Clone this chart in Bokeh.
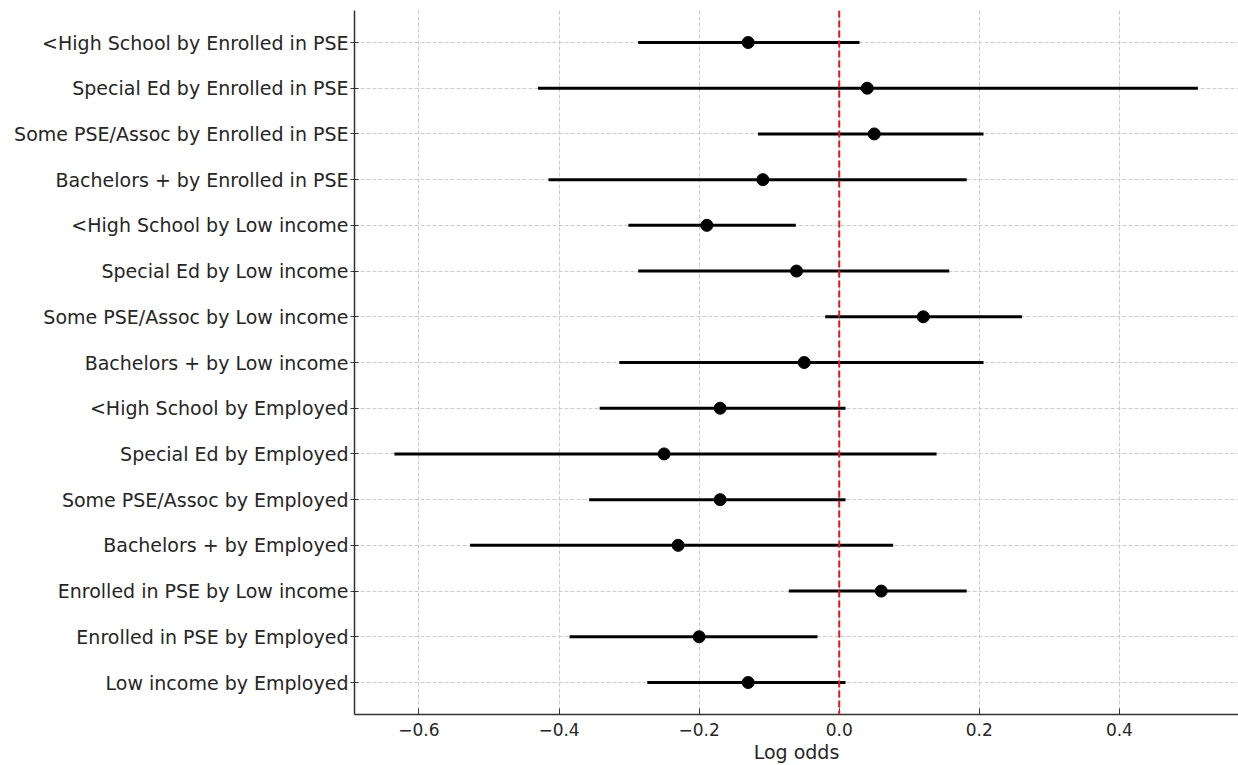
from bokeh.plotting import figure
from bokeh.models import Range1d, FixedTicker, Span, ColumnDataSource
from bokeh.embed import file_html
from bokeh.resources import INLINE

labels = [
    "<High School by Enrolled in PSE",
    "Special Ed by Enrolled in PSE",
    "Some PSE/Assoc by Enrolled in PSE",
    "Bachelors + by Enrolled in PSE",
    "<High School by Low income",
    "Special Ed by Low income",
    "Some PSE/Assoc by Low income",
    "Bachelors + by Low income",
    "<High School by Employed",
    "Special Ed by Employed",
    "Some PSE/Assoc by Employed",
    "Bachelors + by Employed",
    "Enrolled in PSE by Low income",
    "Enrolled in PSE by Employed",
    "Low income by Employed",
]
estimate = [-0.130, 0.040, 0.050, -0.109, -0.189, -0.061, 0.120, -0.050,
            -0.170, -0.250, -0.170, -0.230, 0.060, -0.200, -0.130]
ci_low = [-0.287, -0.430, -0.116, -0.415, -0.301, -0.287, -0.020, -0.314,
          -0.342, -0.635, -0.357, -0.527, -0.072, -0.385, -0.274]
ci_high = [0.029, 0.512, 0.206, 0.182, -0.062, 0.157, 0.261, 0.206,
           0.009, 0.139, 0.009, 0.077, 0.182, -0.031, 0.009]
x_ticks = [-0.6, -0.4, -0.2, 0.0, 0.2, 0.4]
x_tick_labels = ["\u22120.6", "\u22120.4", "\u22120.2", "0.0", "0.2", "0.4"]

pos = list(range(len(labels)))
src = ColumnDataSource(dict(y=pos, est=estimate, lo=ci_low, hi=ci_high))

FONT = "DejaVu Sans"
TXT = "#262626"

p = figure(width=1238, height=765, output_backend="svg", toolbar_location=None,
           x_range=Range1d(-0.692, 0.570), y_range=Range1d(14.7, -0.7),
           min_border_left=354, min_border_right=0, min_border_top=10,
           min_border_bottom=51)
p.outline_line_color = None
p.background_fill_color = "white"

p.segment(x0="lo", x1="hi", y0="y", y1="y", source=src, line_color="black", line_width=3)
p.scatter(x="est", y="y", source=src, size=12, color="black")

p.add_layout(Span(location=0, dimension="height", line_color="#e8141c",
                  line_width=2, line_dash="7 3"))

# x axis
p.xaxis.ticker = FixedTicker(ticks=x_ticks)
p.xaxis.major_label_overrides = {t: l for t, l in zip(x_ticks, x_tick_labels)}
p.xaxis.axis_label = "Log odds"
p.xaxis.axis_label_text_font = FONT
p.xaxis.axis_label_text_font_style = "normal"
p.xaxis.axis_label_text_font_size = "19px"
p.xaxis.axis_label_text_color = TXT
p.xaxis.axis_label_standoff = 2
p.xaxis.major_label_text_font = FONT
p.xaxis.major_label_text_font_size = "17px"
p.xaxis.major_label_text_color = TXT
p.xaxis.major_label_standoff = 8
p.xaxis.major_tick_in = 6
p.xaxis.major_tick_out = 0
p.xaxis.minor_tick_line_color = None

# y axis
p.yaxis.ticker = FixedTicker(ticks=pos)
p.yaxis.major_label_overrides = {i: l for i, l in zip(pos, labels)}
p.yaxis.major_label_text_font = FONT
p.yaxis.major_label_text_font_size = "19px"
p.yaxis.major_label_text_color = TXT
p.yaxis.major_label_standoff = 2
p.yaxis.major_tick_in = 4
p.yaxis.major_tick_out = 4
p.yaxis.minor_tick_line_color = None

for ax in (p.xaxis, p.yaxis):
    ax.axis_line_color = "#333333"
    ax.axis_line_width = 1.5
    ax.major_tick_line_color = "#333333"
    ax.major_tick_line_width = 1

for g in (p.xgrid, p.ygrid):
    g.grid_line_color = "#cccccc"
    g.grid_line_dash = "4 2"
    g.grid_line_width = 1

open("out.html", "w").write(file_html(p, INLINE))
